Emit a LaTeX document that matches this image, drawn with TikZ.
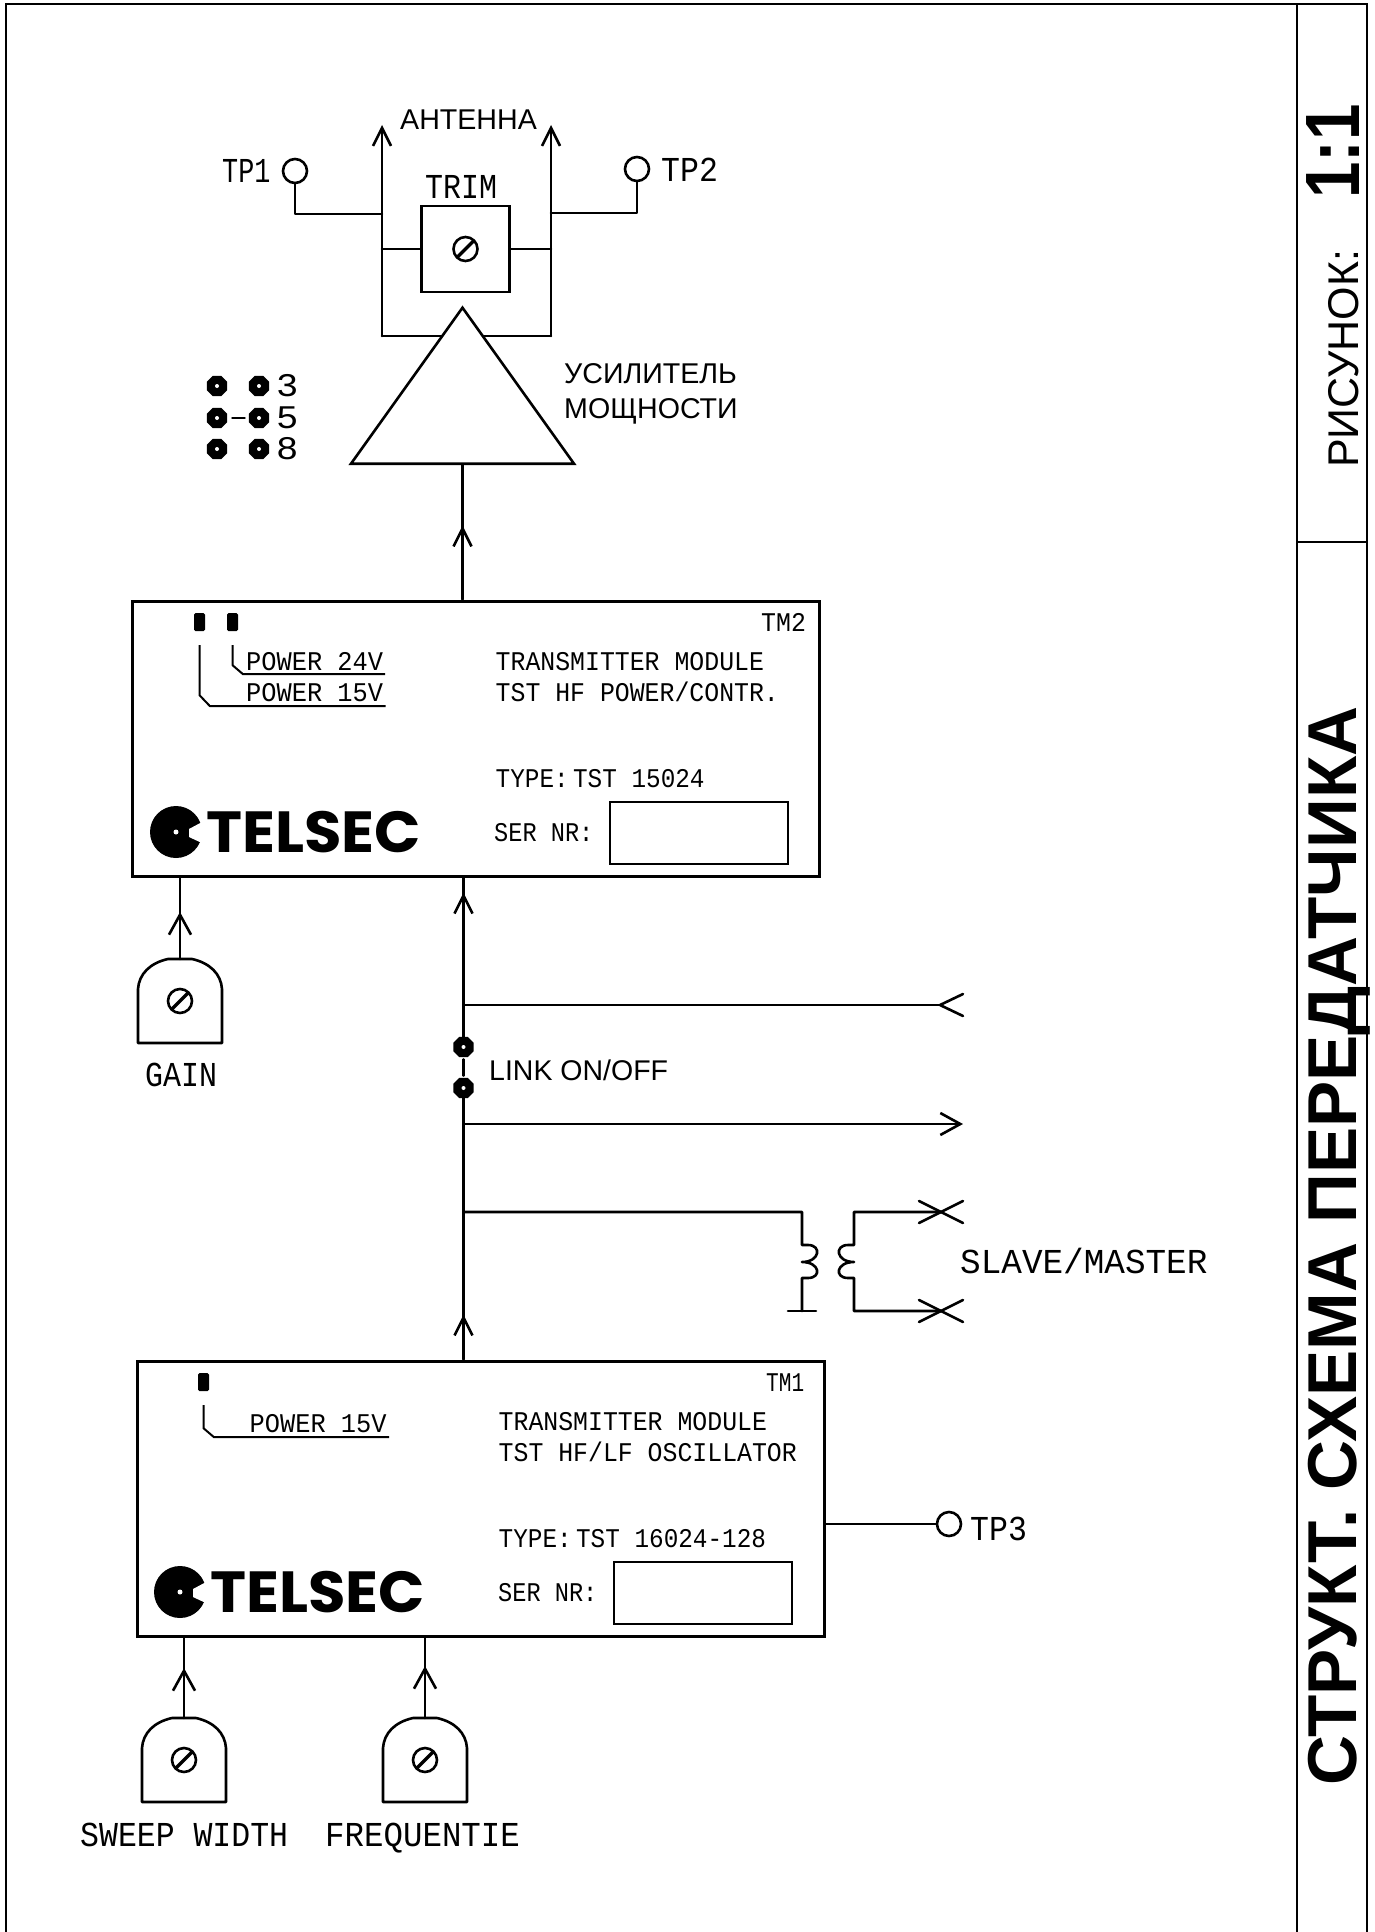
\documentclass[tikz,border=0pt]{standalone}
\usepackage{fontspec}
\setmainfont{Liberation Sans}
\newfontfamily\cadfont[FakeStretch=0.92]{Liberation Mono}
\newfontfamily\cadwide[FakeStretch=0.9]{Liberation Mono}
\newfontfamily\logofont[FakeStretch=1.05]{Poppins}
\usetikzlibrary{arrows.meta,calc,shapes.geometric,decorations.markings}
\newcommand{\fsize}[1]{\fontsize{#1}{#1}\selectfont}

\tikzset{
    vtip/.tip={Straight Barb[length=20pt,width=22pt]},
    vtipsmall/.tip={Straight Barb[length=18pt,width=18pt]},
    potmeter/.pic={
        \draw[wire] (-42,30) .. controls (-41,15) and (-30,4) .. (-12,0) -- (12,0)
            .. controls (30,4) and (41,15) .. (42,30) -- (42,84) -- (-42,84) -- cycle;
        \node[screw] (-screw) at (0,42) {};
        \coordinate (-top) at (0,0);
    },
    telsec/.pic={
        \fill (0,0) circle (26);
        \fill[white] (13,-3) -- (28,-11) -- (28,12) -- (13,5) -- cycle;
        \fill[white] (0,0) circle (2.5);
        \node[anchor=base west, inner sep=0, font=\logofont\bfseries\fsize{58}] (-word) at (30,20) {TELSEC};
    }
}

\begin{document}
\begin{tikzpicture}[
        x=1pt, y=-1pt,
        wire/.style={line width=2.6pt, line cap=round, line join=round},
        framing/.style={line width=2.2pt},
        leader/.style={line width=2pt, line join=round},
        module/.style={draw, line width=3pt, inner sep=0, minimum width=687pt, minimum height=275pt},
        serbox/.style={draw, line width=2.6pt, inner sep=0, minimum width=178pt, minimum height=62pt},
        cad/.style={anchor=base west, inner sep=0, font=\cadfont\fsize{27}},
        cadbig/.style={anchor=base west, inner sep=0, font=\cadwide\fsize{35}},
        arial/.style={anchor=base west, inner sep=0, font=\fsize{28.6}},
        testpoint/.style={circle, draw, line width=2.6pt, inner sep=0, minimum size=24pt},
        screw/.style={circle, draw, line width=2.6pt, inner sep=0, minimum size=24pt,
            path picture={\draw[line width=3.4pt] (path picture bounding box.south west) -- (path picture bounding box.north east);}},
        jumper/.style={regular polygon, regular polygon sides=8, fill=black, inner sep=0, minimum size=22pt,
            path picture={\fill[white] (path picture bounding box.center) circle (2pt);}},
        led/.style={fill=black, rounded corners=1.5pt, inner sep=0, minimum width=11pt, minimum height=18pt},
        tipat/.style={postaction={decorate, decoration={markings, mark=at position #1 with {\arrow{vtip}}}}},
        smalltipat/.style={postaction={decorate, decoration={markings, mark=at position #1 with {\arrow{vtipsmall}}}}}
    ]
    \useasboundingbox (0,0) rectangle (1375,1932);

    % Frame and title strip
    \draw[framing] (6,1932) -- (6,4) -- (1367,4) -- (1367,1932);
    \draw[framing] (1297,4) -- (1297,1932);
    \draw[framing] (1297,542) -- (1367,542);
    \node[anchor=base west, inner sep=0, rotate=90, font=\bfseries\fsize{69.2}] (title) at (1356,1786) {СТРУКТ. СХЕМА ПЕРЕДАТЧИКА};
    \node[anchor=base west, inner sep=0, rotate=90, font=\fsize{43}] (figure) at (1358,468) {РИСУНОК:};
    \node[anchor=base west, inner sep=0, rotate=90, font=\bfseries\fsize{77}] (ratio) at (1359,199) {\scalebox{0.85}[1]{1:1}};

    % Power amplifier and antenna
    \draw[wire, -vtipsmall] (382,336) coordinate (antl) -- (382,125);
    \draw[wire, -vtipsmall] (551,336) coordinate (antr) -- (551,125);
    \draw[wire] (antl) -- (antr);
    \node[draw, fill=white, line width=2.6pt, isosceles triangle, isosceles triangle stretches, shape border rotate=90,
        minimum width=223pt, minimum height=156pt, inner sep=0, anchor=lower side] (ampl) at (462.5,465) {};
    \node[draw, line width=2.6pt, inner sep=0, minimum width=88pt, minimum height=86pt] (trim) at (465.5,249) {};
    \node[screw] (trimscrew) at (trim.center) {};
    \draw[wire] (trim.west) -- (antl |- trim.west);
    \draw[wire] (trim.east) -- (antr |- trim.east);
    \node[cadbig] (trimtext) at (425,198) {\scalebox{0.95}[1]{TRIM}};
    \node[arial] (anttext) at (400,129) {АНТЕННА};
    \node[arial] (amptexta) at (564,383) {УСИЛИТЕЛЬ};
    \node[arial] (amptextb) at (564,418) {МОЩНОСТИ};

    % Test points 1 and 2
    \node[testpoint] (tp1) at (295,171) {};
    \node[testpoint] (tp2) at (637,169) {};
    \node[cadbig] (tp1text) at (222,182) {\scalebox{0.85}[1]{TP1}};
    \node[cadbig] (tp2text) at (661,181) {TP2};
    \draw[wire] (tp1.south) |- (antl |- 0,214);
    \draw[wire] (tp2.south) |- (antr |- 0,213);

    % Jumpers
    \foreach \jy/\jn in {386/3, 418/5, 449/8} {
        \node[jumper] (ja\jn) at (217,\jy) {};
        \node[jumper] (jb\jn) at (259,\jy) {};
        \node[anchor=west, inner sep=0, font=\cadwide\fsize{33}] (jt\jn) at (276,\jy) {\scalebox{1.25}[1]{\jn}};
    }
    \draw[wire, shorten <=5pt, shorten >=4pt] (ja5) -- (jb5);

    % TM2 module
    \node[module] (tm2) at (476,738.5) {};
    \node[led] (led15) at (199.5,622) {};
    \node[led] (led24) at (232.5,622) {};
    \draw[leader, shorten <=14pt] (led24.south) -- ++(0,34) -- ++(10.5,9) -- ++(142,0);
    \draw[leader, shorten <=14pt] (led15.south) -- ++(0,64) -- ++(10.5,11) -- ++(175.5,0);
    \node[cad] (pw24) at (246,670) {\scalebox{1.02}[1]{POWER 24V}};
    \node[cad] (pw15) at (246,701) {\scalebox{1.02}[1]{POWER 15V}};
    \node[cad] (tm2name) at (761,631) {TM2};
    \node[cad] (tm2texta) at (495.5,670) {TRANSMITTER MODULE};
    \node[cad] (tm2textb) at (495.5,701) {TST HF POWER/CONTR.};
    \node[cad] (tm2type) at (495.5,787) {\scalebox{0.98}[1]{TYPE:\,TST 15024}};
    \node[cad] (tm2ser) at (494,841) {\scalebox{0.95}[1]{SER NR:}};
    \node[serbox] (tm2nr) at (699,833) {};
    \pic (tm2logo) at (176,832) {telsec};

    % TM1 module
    \node[module] (tm1) at (480.5,1498.5) {};
    \node[led] (led1) at (203.5,1382) {};
    \draw[leader, shorten <=14pt] (led1.south) -- ++(0,37) -- ++(10.5,9) -- ++(175,0);
    \node[cad] (pw1) at (249.5,1432) {\scalebox{1.02}[1]{POWER 15V}};
    \node[cad] (tm1name) at (766,1391) {\scalebox{0.85}[1]{TM1}};
    \node[cad] (tm1texta) at (498.5,1430) {TRANSMITTER MODULE};
    \node[cad] (tm1textb) at (498.5,1461) {TST HF/LF OSCILLATOR};
    \node[cad] (tm1type) at (498.5,1547) {\scalebox{0.98}[1]{TYPE:\,TST 16024-128}};
    \node[cad] (tm1ser) at (498,1601) {\scalebox{0.95}[1]{SER NR:}};
    \node[serbox] (tm1nr) at (703,1593) {};
    \pic (tm1logo) at (180,1592) {telsec};

    % Potentiometers
    \pic (gain) at (180,959) {potmeter};
    \pic (sweep) at (184,1718) {potmeter};
    \pic (freq) at (425,1718) {potmeter};
    \draw[wire, tipat=47pt] (gain-top) -- (gain-top |- tm2.south);
    \draw[wire, tipat=50pt] (sweep-top) -- (sweep-top |- tm1.south);
    \draw[wire, tipat=52pt] (freq-top) -- (freq-top |- tm1.south);
    \node[cadbig] (gaintext) at (145,1086) {\scalebox{0.95}[1]{GAIN}};
    \node[cadbig] (sweeptext) at (80,1846) {SWEEP WIDTH};
    \node[cadbig] (freqtext) at (325,1846) {\scalebox{1.03}[1]{FREQUENTIE}};

    % Trunk between the modules
    \coordinate (trunk) at (463.5,0);
    \node[jumper] (link1) at (trunk |- 0,1047) {};
    \node[jumper] (link2) at (trunk |- 0,1088) {};
    \node[arial, font=\fsize{28.5}] (linktext) at (489,1080) {LINK ON/OFF};
    \draw[wire, smalltipat=144pt] (link1) -- (link1 |- tm2.south);
    \draw[wire, shorten <=2pt, shorten >=2pt] (link1.south) -- (link2.north);
    \draw[wire, smalltipat=45pt] (link2 |- tm1.north) -- (link2);
    \draw[wire, smalltipat=74pt] (ampl.lower side |- tm2.north) -- (ampl.lower side);

    % Signal branches
    \coordinate (sigin) at (940,1005);
    \coordinate (sigout) at (963,1124);
    \draw[wire] (trunk |- sigin) -- (sigin);
    \draw[wire] ($(sigin)+(23,-11)$) -- (sigin) -- ($(sigin)+(23,11)$);
    \draw[wire, -vtip] (trunk |- sigout) -- (sigout);

    % Transformer
    \coordinate (prim) at (802,1245);
    \coordinate (sec) at (854,1245);
    \coordinate (slavea) at (941,1212);
    \coordinate (slaveb) at (941,1311);
    \draw[wire] (trunk |- slavea) -| (prim)
        -- ++(6,0) .. controls +(14,0) and +(18,0) .. ++(-6,17) .. controls +(18,0) and +(14,0) .. ++(6,16) -- ++(-6,0) -- (prim |- slaveb);
    \draw[wire] (slavea) -| (sec)
        -- ++(-6,0) .. controls +(-14,0) and +(-18,0) .. ++(6,17) .. controls +(-18,0) and +(-14,0) .. ++(-6,16) -- ++(6,0) |- (slaveb);
    \draw[wire] ($(prim |- slaveb)+(-14,0)$) -- ($(prim |- slaveb)+(14,0)$);
    \foreach \xend in {slavea, slaveb} {
        \draw[wire] ($(\xend)+(-22,-11)$) -- ($(\xend)+(22,11)$);
        \draw[wire] ($(\xend)+(-22,11)$) -- ($(\xend)+(22,-11)$);
    }
    \node[cadbig] (slavetext) at (960,1273) {\scalebox{1.09}[1]{SLAVE/MASTER}};

    % Test point 3
    \node[testpoint] (tp3) at (949,1524) {};
    \draw[wire] (tm1.east |- tp3) -- (tp3);
    \node[cadbig] (tp3text) at (970,1540) {TP3};
\end{tikzpicture}
\end{document}
